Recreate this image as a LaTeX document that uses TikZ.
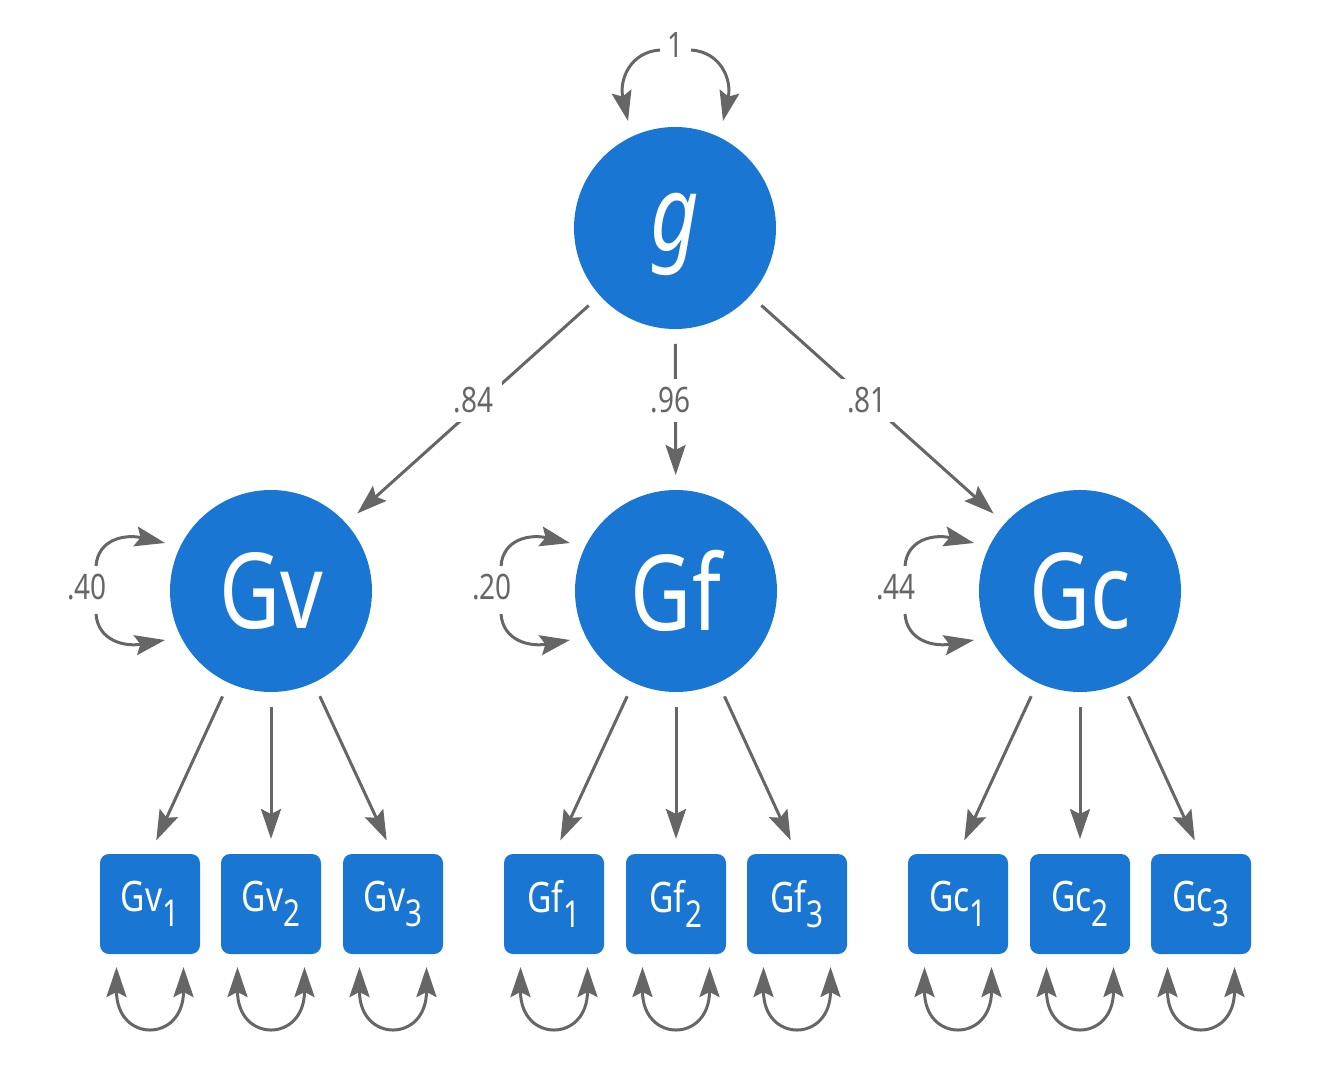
\documentclass[tikz,border=0pt]{standalone}
\usepackage{fontspec}
\setmainfont[FakeStretch=0.8]{Noto Sans}
\usetikzlibrary{arrows.meta,calc}
\definecolor{nodeblue}{HTML}{1976D2}
\definecolor{linegray}{HTML}{666666}
\newcommand\subidx[1]{\raisebox{-15pt}{\fontsize{37}{37}\selectfont #1}}
\begin{document}
\begin{tikzpicture}[x=1pt,y=-1pt,
  >={Stealth[length=30pt,width=20pt,inset=5pt]},
  latent/.style={circle, fill=nodeblue, minimum size=202pt, inner sep=0pt, outer sep=0pt,
    text=white, font=\fontsize{105}{105}\selectfont},
  obs/.style={rectangle, rounded corners=9pt, fill=nodeblue, minimum size=100pt,
    inner sep=0pt, outer sep=0pt, text=white, font=\fontsize{42}{42}\selectfont},
  path/.style={draw=linegray, line width=3pt, ->},
  loadpath/.style={path, shorten <=15pt, shorten >=15pt},
  coef/.style={fill=white, text=linegray, font=\fontsize{35}{35}\selectfont, inner sep=9pt},
  varlabel/.style={text=linegray, font=\fontsize{35}{35}\selectfont, inner sep=0pt}]
\useasboundingbox (0,0) rectangle (1344,1075);

% latent factors
\node[latent, text height=71pt, text depth=25pt] (g) at (675,228) {\itshape g};
\node[latent] (Gv) at (271,591) {Gv};
\node[latent] (Gf) at (676,591) {Gf};
\node[latent] (Gc) at (1080,591) {Gc};

% indicators
\node[obs] (Gv1) at (150,904) {Gv\subidx{1}};
\node[obs] (Gv2) at (271,904) {Gv\subidx{2}};
\node[obs] (Gv3) at (393,904) {Gv\subidx{3}};
\node[obs] (Gf1) at (554,904) {Gf\subidx{1}};
\node[obs] (Gf2) at (676,904) {Gf\subidx{2}};
\node[obs] (Gf3) at (797,904) {Gf\subidx{3}};
\node[obs] (Gc1) at (958,904) {Gc\subidx{1}};
\node[obs] (Gc2) at (1080,904) {Gc\subidx{2}};
\node[obs] (Gc3) at (1201,904) {Gc\subidx{3}};

% second-order loadings
\draw[loadpath] (g) -- node[coef,pos=0.478,xshift=-5pt,yshift=4pt] (l84) {.84} (Gv);
\draw[loadpath] (g) -- node[coef,pos=0.469,xshift=-5pt,yshift=4pt] (l96) {.96} (Gf);
\draw[loadpath] (g) -- node[coef,pos=0.478,xshift=-5pt,yshift=4pt] (l81) {.81} (Gc);

% first-order loadings
\foreach \f in {Gv,Gf,Gc}{
  \foreach \i in {1,2,3}{
    \draw[loadpath] (\f) -- (\f\i.north);
  }
}

% variance of g
\draw[path] ($(g)+(-15,-178)$) .. controls ($(g)+(-45,-176)$) and ($(g)+(-56,-148)$) .. ($(g)+(-47,-107)$);
\draw[path] ($(g)+(16,-178)$) .. controls ($(g)+(46,-176)$) and ($(g)+(57,-148)$) .. ($(g)+(48,-107)$);
\node[varlabel] (vg) at ($(g)+(0,-183)$) {1};

% residual variances of first-order factors
\foreach \f/\v in {Gv/.40,Gf/.20,Gc/.44}{
  \draw[path] ($(\f)+(-175,-25)$) .. controls ($(\f)+(-173,-52)$) and ($(\f)+(-146,-57)$) .. ($(\f)+(-106,-48)$);
  \draw[path] ($(\f)+(-175,23)$) .. controls ($(\f)+(-173,50)$) and ($(\f)+(-146,56)$) .. ($(\f)+(-106,49)$);
  \node[varlabel] (v\f) at ($(\f)+(-184,-4)$) {\v};
}

% residual variances of indicators
\foreach \s in {Gv1,Gv2,Gv3,Gf1,Gf2,Gf3,Gc1,Gc2,Gc3}{
  \draw[path, <->] ($(\s)+(-33.5,63)$) .. controls ($(\s)+(-33.5,139)$) and ($(\s)+(33.5,139)$) .. ($(\s)+(33.5,63)$);
}
\end{tikzpicture}
\end{document}
